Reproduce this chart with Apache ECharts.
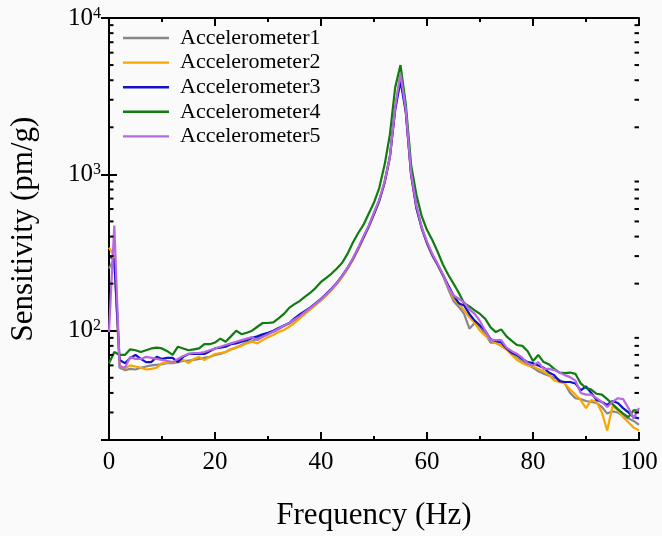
<!DOCTYPE html>
<html>
<head>
<meta charset="utf-8">
<script src="https://cdn.jsdelivr.net/npm/echarts@6/dist/echarts.min.js"></script>
<style>
html,body{margin:0;padding:0;background:#fafafa;}
#chart{width:662px;height:536px;}
</style>
</head>
<body>
<div id="chart"></div>
<script>
const freq = [0,1,2,3,4,5,6,7,8,9,10,11,12,13,14,15,16,17,18,19,20,21,22,23,24,25,26,27,28,29,30,31,32,33,34,35,36,37,38,39,40,41,42,43,44,45,46,47,48,49,50,51,52,53,54,55,56,57,58,59,60,61,62,63,64,65,66,67,68,69,70,71,72,73,74,75,76,77,78,79,80,81,82,83,84,85,86,87,88,89,90,91,92,93,94,95,96,97,98,99,100];

const acc1 = [250,290,58,56,57,56.5,58,59,60,60.5,61,62,62,63,64,64.5,65,66,67,68,70,71,73,76,78,81,84,86,89,92,95,98,102,107,111,116,122,130,138,147,157,169,183,200,222,250,285,332,392,462,560,680,880,1280,2650,4300,2550,990,610,450,360,302,262,225,185,155,142,128,103,112,106,95,84,84,80,76,72,68,64,61,58,55,53,51.5,50,48.5,46,40,37,36.5,35.5,35,34.5,32.5,29.5,30.5,30,28.5,27.5,26.5,25];

const acc2 = [340,300,60,57.5,60,59,58,56.5,57,58,62,62.5,63,64,65,62,66,68,65,68,71,72,73,76,78,80,83,85,83,87,91,94,98,101,106,112,120,128,137,146,156,168,182,199,220,248,284,330,390,460,555,675,880,1290,2650,4400,2550,1000,615,455,362,304,264,228,190,162,148,135,122,112,100,93,87,83,80,76,70,65,62,60,59,57,55,52,48,47,46,42,39,36,32,36,35,30,23,33,31,28,26,24,23];

const acc3 = [300,285,65,62,67,70,66,63,63,68,66,67,67,63,68,71,71,71,71,74,77,78,79,82,83,85,87,90,92,95,97,100,104,108,112,120,127,134,141,150,160,172,186,203,225,252,288,335,395,465,560,680,890,1300,2600,3950,2500,1000,610,455,365,305,265,228,195,168,150,145,128,116,108,100,88,86,84,77,72,70,66,63,62,60,58,54,52,47.5,47,47,46,41.5,44,40,36,35,33.5,35.5,34.5,32,30,28,27.5];

const acc4 = [62,73,70,70,76,75,73,75,77,78,77,74,70,79,77,75,76,77,82,82,84,89,85,92,100,95,97,100,106,112,112,113,120,128,140,148,155,165,175,188,205,218,232,250,272,310,365,420,475,560,660,820,1150,1800,3600,5000,2800,1150,740,540,440,380,320,265,228,200,175,150,143,135,128,119,105,98,102,92,86,81,80,74,64,70,63,61,57,54,53.5,54,53,46,43,42,39.5,39,36.5,34,31.5,29.5,28,31,31];

const acc5 = [98,470,59,58,68,66,66,68,67,66,65,64,63,66,69,71,72,72,73,75,77,79,81,83,85,87,89,91,87,91,95,99,103,108,112,118,124,132,140,149,159,171,185,202,224,252,290,338,400,470,570,690,900,1300,2700,4400,2600,1020,630,460,370,310,268,230,190,168,160,152,137,128,115,100,87,87,87,78,74,71,67,62,60,63,57,57,56,54,52,50.5,48,40,39,39,37,35,32.5,35,37,36.5,32,27.5,32];

const seriesNames = ['Accelerometer1','Accelerometer2','Accelerometer3','Accelerometer4','Accelerometer5'];
const seriesColors = ['#878787','#f9a602','#1212c8','#107c10','#b469e0'];
const seriesValues = [acc1, acc2, acc3, acc4, acc5];

const xTicks = { min: 0, max: 100, interval: 20 };
const yRange = { min: 20, max: 10000 };
const yMinorTicks = [30,40,50,60,70,80,90,200,300,400,500,600,700,800,900,2000,3000,4000,5000,6000,7000,8000,9000];

const FONT = "'Liberation Serif','Times New Roman',serif";

const chart = echarts.init(document.getElementById('chart'), null, {renderer:'canvas'});

const axisLineStyle = { color:'#000', width:2 };

const series = seriesValues.map((vals, k) => ({
  name: seriesNames[k],
  type: 'line',
  symbol: 'none',
  showSymbol: false,
  data: freq.map((f, i) => [f, vals[i]]),
  lineStyle: { width: 2.2, color: seriesColors[k] },
  itemStyle: { color: seriesColors[k] },
  emphasis: { disabled: true },
  z: 3 + k
}));

series.push({
  type: 'custom',
  silent: true,
  clip: false,
  z: 10,
  data: yMinorTicks.map(v => [xTicks.min, v]),
  renderItem: function (params, api) {
    const v = api.value(1);
    const pL = api.coord([xTicks.min, v]);
    const pR = api.coord([xTicks.max, v]);
    return {
      type: 'group',
      children: [
        { type:'line', shape:{x1:pL[0], y1:pL[1], x2:pL[0]+4.5, y2:pL[1]}, style:{stroke:'#000', lineWidth:2} },
        { type:'line', shape:{x1:pR[0], y1:pR[1], x2:pR[0]-4.5, y2:pR[1]}, style:{stroke:'#000', lineWidth:2} }
      ]
    };
  }
});

const option = {
  animation: false,
  backgroundColor: '#fafafa',
  grid: { left: 107, right: 23, top: 18, bottom: 90, containLabel: false },
  legend: {
    data: seriesNames,
    orient: 'vertical',
    left: 123,
    top: 27,
    padding: 0,
    icon: 'rect',
    itemWidth: 46,
    itemHeight: 2.4,
    itemGap: 2.6,
    textStyle: { fontFamily: FONT, fontSize: 22, color: '#000', lineHeight: 22, padding: [0,0,0,6] }
  },
  xAxis: [
    {
      type: 'value', position: 'bottom',
      min: xTicks.min, max: xTicks.max, interval: xTicks.interval,
      name: 'Frequency (Hz)', nameLocation: 'middle', nameGap: 60,
      nameTextStyle: { fontFamily: FONT, fontSize: 31, color: '#000' },
      axisLine: { show: true, lineStyle: axisLineStyle },
      axisTick: { show: true, inside: true, length: 8, lineStyle: { color:'#000', width: 2 } },
      minorTick: { show: true, splitNumber: 2, length: 4, lineStyle: { color:'#000', width: 2 } },
      axisLabel: { fontFamily: FONT, fontSize: 25, color: '#000', margin: 10 },
      splitLine: { show: false }
    },
    {
      type: 'value', position: 'top',
      min: xTicks.min, max: xTicks.max, interval: xTicks.interval,
      axisLine: { show: true, lineStyle: axisLineStyle },
      axisTick: { show: true, inside: true, length: 8, lineStyle: { color:'#000', width: 2 } },
      minorTick: { show: true, splitNumber: 2, length: 4, lineStyle: { color:'#000', width: 2 } },
      axisLabel: { show: false },
      splitLine: { show: false }
    }
  ],
  yAxis: [
    {
      type: 'log', logBase: 10, position: 'left',
      min: yRange.min, max: yRange.max,
      name: 'Sensitivity (pm/g)', nameLocation: 'middle', nameGap: 70,
      nameTextStyle: { fontFamily: FONT, fontSize: 31, color: '#000' },
      axisLine: { show: true, lineStyle: axisLineStyle },
      axisTick: { show: true, inside: true, length: 8, lineStyle: { color:'#000', width: 2 } },
      axisLabel: {
        showMinLabel: false,
        margin: 8,
        formatter: function (v) { return '{b|10}{s|' + Math.round(Math.log10(v)) + '}'; },
        rich: {
          b: { fontFamily: FONT, fontSize: 25, color: '#000' },
          s: { fontFamily: FONT, fontSize: 16, color: '#000', verticalAlign: 'top' }
        }
      },
      splitLine: { show: false },
      minorSplitLine: { show: false }
    },
    {
      type: 'log', logBase: 10, position: 'right',
      min: yRange.min, max: yRange.max,
      axisLine: { show: true, lineStyle: axisLineStyle },
      axisTick: { show: true, inside: true, length: 8, lineStyle: { color:'#000', width: 2 } },
      axisLabel: { show: false },
      splitLine: { show: false }
    }
  ],
  series: series
};

chart.setOption(option);
</script>
</body>
</html>
